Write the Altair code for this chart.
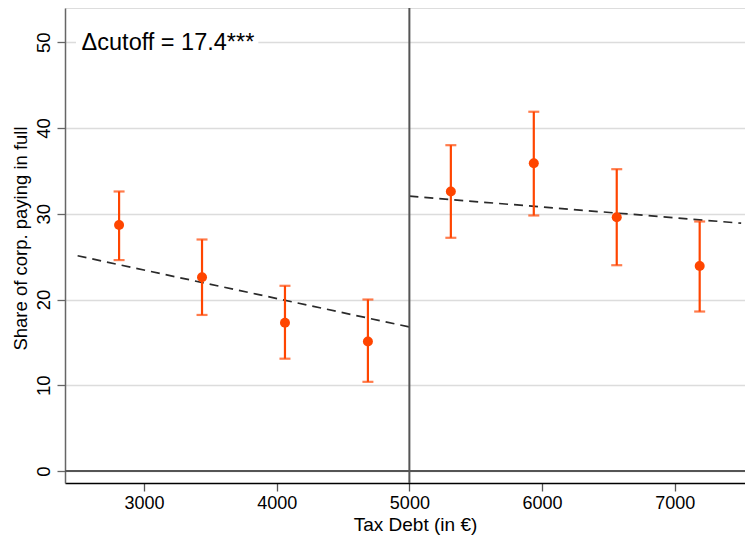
import altair as alt
import pandas as pd

# Binned means with 95% CIs, left and right of the cutoff
x_left = [2812.5, 3437.5, 4062.5, 4687.5]
y_left = [28.7, 22.6, 17.3, 15.1]
lo_left = [24.6, 18.2, 13.1, 10.4]
hi_left = [32.6, 27.0, 21.6, 20.0]

x_right = [5312.5, 5937.5, 6562.5, 7187.5]
y_right = [32.6, 35.9, 29.6, 23.9]
lo_right = [27.2, 29.8, 24.0, 18.6]
hi_right = [38.0, 41.9, 35.2, 29.1]

# Linear fits on each side
fit_x_left = [2500, 5000]
fit_y_left = [25.1, 16.8]
fit_x_right = [5000, 7500]
fit_y_right = [32.05, 28.9]

cutoff = 5000
y_ticks = [0, 10, 20, 30, 40, 50]
x_ticks = [3000, 4000, 5000, 6000, 7000]
label_text = "\u0394cutoff = 17.4***"

FONT = "Liberation Sans"
RED = "#FF4500"

pts = pd.DataFrame({
    "x": x_left + x_right,
    "y": y_left + y_right,
    "lo": lo_left + lo_right,
    "hi": hi_left + hi_right,
})
fit = pd.DataFrame({
    "x": fit_x_left + fit_x_right,
    "y": fit_y_left + fit_y_right,
    "side": ["L", "L", "R", "R"],
})

xs = alt.Scale(domain=[2405, 7529], nice=False, zero=False)
ys = alt.Scale(domain=[-1.4, 54], nice=False, zero=False)

X = alt.X("x:Q", scale=xs, title="Tax Debt (in \u20ac)",
          axis=alt.Axis(values=x_ticks, format="d", grid=False,
                        domainColor="#000000", domainWidth=1.3,
                        tickColor="#555555", tickSize=8, tickWidth=1.3,
                        labelFont=FONT, labelFontSize=18, labelColor="#000000",
                        labelPadding=3, titleFont=FONT, titleFontSize=19,
                        titleFontWeight="normal", titleColor="#000000",
                        titlePadding=3, titleX=350))
Y = alt.Y("y:Q", scale=ys, title="Share of corp. paying in full",
          axis=alt.Axis(values=y_ticks, grid=True, gridColor="#dcdcdc",
                        gridWidth=1.3, domainColor="#666666", domainWidth=1.5,
                        tickColor="#666666", tickSize=8, tickWidth=1.3,
                        labelAngle=270, labelAlign="center", labelBaseline="bottom",
                        labelFont=FONT, labelFontSize=18.5, labelColor="#000000",
                        labelPadding=4, titleFont=FONT, titleFontSize=18.5,
                        titleFontWeight="normal", titleColor="#000000",
                        titlePadding=4, titleY=230))

base = alt.Chart(pts)

zero_line = alt.Chart(pd.DataFrame({"v": [0]})).mark_rule(
    color="#555555", strokeWidth=2).encode(y=alt.Y("v:Q", scale=ys))
cut_line = alt.Chart(pd.DataFrame({"c": [cutoff]})).mark_rule(
    color="#555555", strokeWidth=2).encode(x=alt.X("c:Q", scale=xs))

fit_lines = alt.Chart(fit).mark_line(
    color="#2a2a2a", strokeWidth=1.7, strokeDash=[9, 6]).encode(
    x=X, y=Y, detail="side:N")

bars = base.mark_rule(color=RED, strokeWidth=2.2).encode(
    x=X, y=alt.Y("lo:Q", scale=ys), y2="hi:Q")
cap_lo = base.mark_tick(color=RED, orient="horizontal", size=11, thickness=2.2).encode(
    x=X, y=alt.Y("lo:Q", scale=ys))
cap_hi = base.mark_tick(color=RED, orient="horizontal", size=11, thickness=2.2).encode(
    x=X, y=alt.Y("hi:Q", scale=ys))
dots = base.mark_circle(color=RED, size=100, opacity=1).encode(x=X, y=Y)

lab = pd.DataFrame({"x": [2530], "y": [50], "t": [label_text],
                    "x1": [2488], "x2": [3862], "y1": [48.8], "y2": [51.2]})
lab_bg = alt.Chart(lab).mark_rect(color="white").encode(
    x=alt.X("x1:Q", scale=xs), x2="x2:Q",
    y=alt.Y("y1:Q", scale=ys), y2="y2:Q")
lab_txt = alt.Chart(lab).mark_text(
    align="left", baseline="middle", font=FONT, fontSize=23.5, color="#000000", dy=1
).encode(x=alt.X("x:Q", scale=xs), y=alt.Y("y:Q", scale=ys), text="t:N")

chart = alt.layer(
    fit_lines, lab_bg, lab_txt, zero_line, cut_line, bars, cap_lo, cap_hi, dots
).properties(
    width=680, height=475,
    padding={"left": 57, "top": 0, "right": 0, "bottom": 52},
    autosize=alt.AutoSizeParams(type="none"),
).configure_view(stroke=None).configure(background="white")

chart.save("out.html", embed_options={"renderer": "svg", "actions": False})
